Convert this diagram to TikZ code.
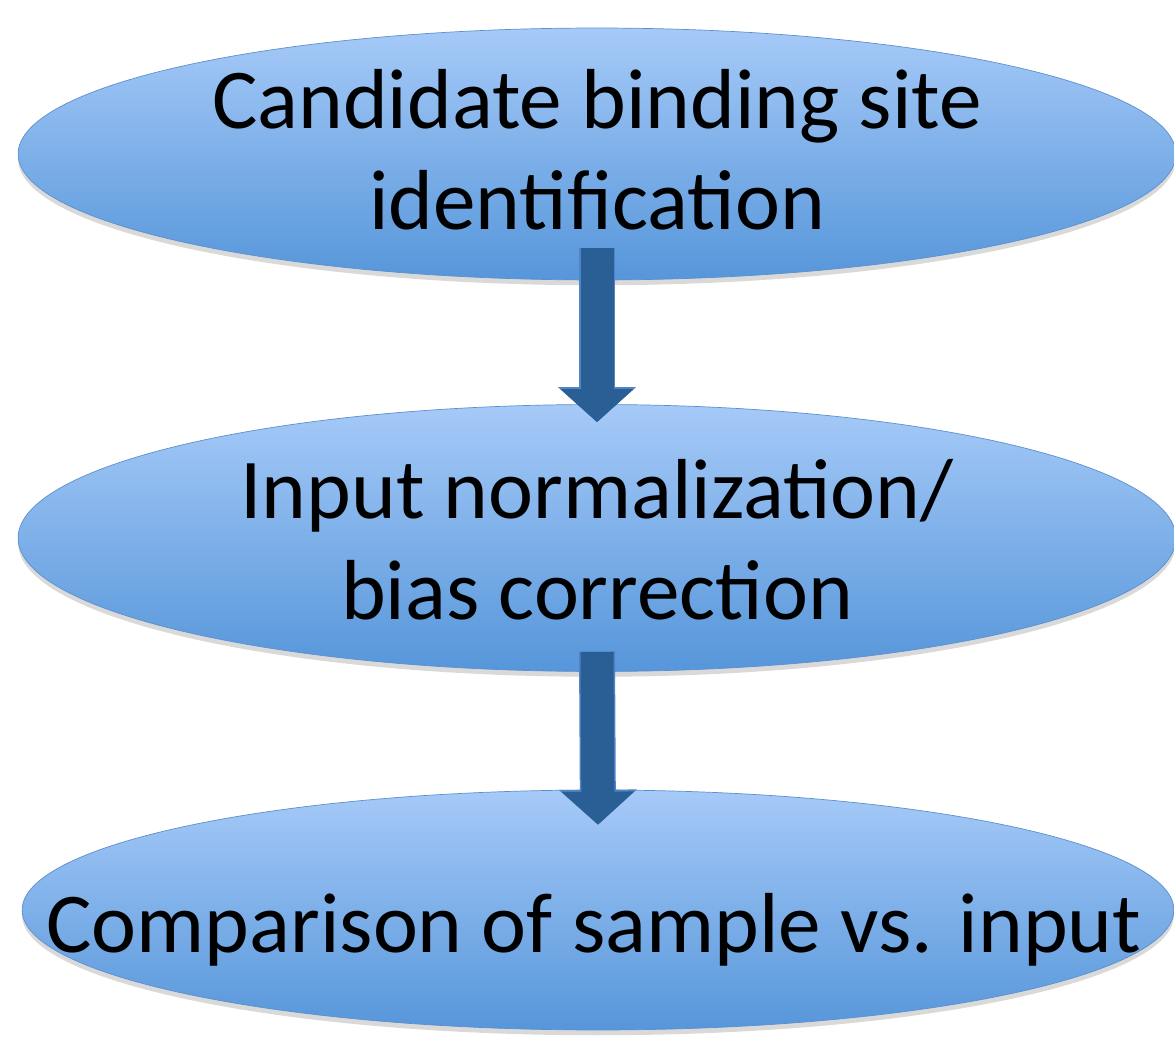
\documentclass[tikz,border=0pt]{standalone}
\usepackage{fontspec}
\setmainfont{Carlito}
\usepackage{tikz}
\usetikzlibrary{shapes.geometric}
\usetikzlibrary{arrows.meta}
\usetikzlibrary{shadows}
\definecolor{stagetop}{RGB}{166,202,248}
\definecolor{stagebot}{RGB}{86,150,218}
\definecolor{stageline}{RGB}{92,144,205}
\definecolor{arrowfill}{RGB}{42,95,150}
\definecolor{arrowline}{RGB}{80,132,194}
\begin{document}
\begin{tikzpicture}[x=0.02cm,y=-0.02cm,
  stage/.style={draw=stageline,ellipse,inner sep=0pt,top color=stagetop,bottom color=stagebot,
    drop shadow={shadow xshift=0pt,shadow yshift=-3pt,opacity=0.25,fill=black!60}},
  stagetext/.style={anchor=base,align=center,inner sep=0pt,font=\fontsize{48.5}{58}\selectfont,text=black},
  blockarrow/.style={arrowfill,line width=0.66cm,-{Triangle[width=1.42cm,length=0.66cm]},
    preaction={draw=arrowline,line width=0.72cm,-{Triangle[width=1.52cm,length=0.7cm]}}}]
  \useasboundingbox (0,0) rectangle (1174,1057);
  % stages
  \node[stage,minimum width=23.16cm,minimum height=5.04cm] (cand) at (597,154){};
  \node[stage,minimum width=23.16cm,minimum height=5.34cm] (norm) at (597,538){};
  \node[stage,minimum width=23.04cm,minimum height=4.8cm] (comp) at (598,910){};
  \node[stagetext] (candtext) at (597,230){Candidate binding site\\identification};
  \node[stagetext] (normtext) at (597,620){Input normalization/\\bias correction};
  \node[stagetext] (comptext) at (594,952){Comparison of sample vs. input};
  % arrows
  \draw[blockarrow]([yshift=0.64cm]cand.south)--([yshift=-0.36cm]norm.north);
  \draw[blockarrow]([yshift=0.4cm]norm.south)--([yshift=-0.7cm]comp.north);
\end{tikzpicture}
\end{document}
